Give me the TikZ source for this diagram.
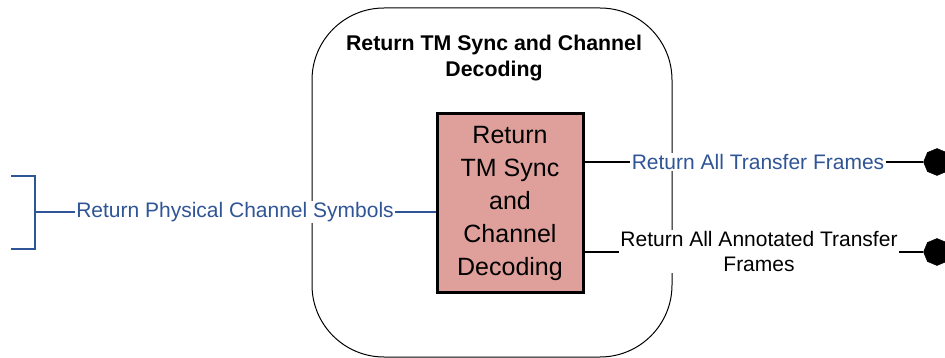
\documentclass[tikz,border=0pt]{standalone}
\usepackage{fontspec}
\setmainfont{Liberation Sans}
\usetikzlibrary{shapes.geometric}
\definecolor{lblue}{RGB}{47,85,151}
\definecolor{boxfill}{RGB}{223,160,155}
\tikzset{
  outerbox/.style={draw=black, line width=1pt, rounded corners=72pt, minimum width=360pt, minimum height=349pt, inner sep=0pt},
  titletext/.style={font=\bfseries\fontsize{21.3}{26}\selectfont, align=center, inner sep=0pt},
  funcbox/.style={draw=black, line width=3pt, fill=boxfill, minimum width=146pt, minimum height=178pt, align=center, font=\fontsize{25}{33}\selectfont, inner sep=0pt},
  flowlabel/.style={fill=white, inner sep=1.5pt, font=\fontsize{21}{25}\selectfont, align=center},
  bluelink/.style={draw=lblue, line width=1.3pt},
  blacklink/.style={draw=black, line width=1.3pt},
  enddot/.style={regular polygon, regular polygon sides=8, shape border rotate=22.5, fill=black, draw=black, minimum size=27pt, inner sep=0pt}
}
\begin{document}
\begin{tikzpicture}[x=1pt, y=-1pt]
\useasboundingbox (0,0) rectangle (945,358);
\node[outerbox] (outer) at (492,182.5) {};
\node[titletext] (title) at (494,58) {Return TM Sync and Channel\\Decoding};
\node[funcbox] (inner) at (510,203) {Return\\TM Sync\\and\\Channel\\Decoding};
% left bracket
\coordinate (b1) at (11,176);
\coordinate (b2) at (35,176);
\coordinate (bm) at (35,212);
\coordinate (b3) at (35,249);
\coordinate (b4) at (11,249);
\draw[bluelink] (b1) -- (b2) -- (b3) -- (b4);
\node[flowlabel, text=lblue] (lab0) at (235,212) {Return Physical Channel Symbols};
\draw[bluelink] (bm) -- (lab0);
\draw[bluelink] (lab0) -- (inner.west |- lab0);
% right side
\node[flowlabel, text=lblue] (lab1) at (758,162) {Return All Transfer Frames};
\node[flowlabel] (lab2) at (759,251.5) {Return All Annotated Transfer\\Frames};
\node[enddot] (d1) at (937,162) {};
\node[enddot] (d2) at (937,252) {};
\draw[blacklink] (inner.east |- lab1) -- (lab1);
\draw[blacklink] (lab1) -- (d1);
\draw[blacklink] (inner.east |- d2) -- (lab2.west |- d2);
\draw[blacklink] (lab2.east |- d2) -- (d2);
\end{tikzpicture}
\end{document}
